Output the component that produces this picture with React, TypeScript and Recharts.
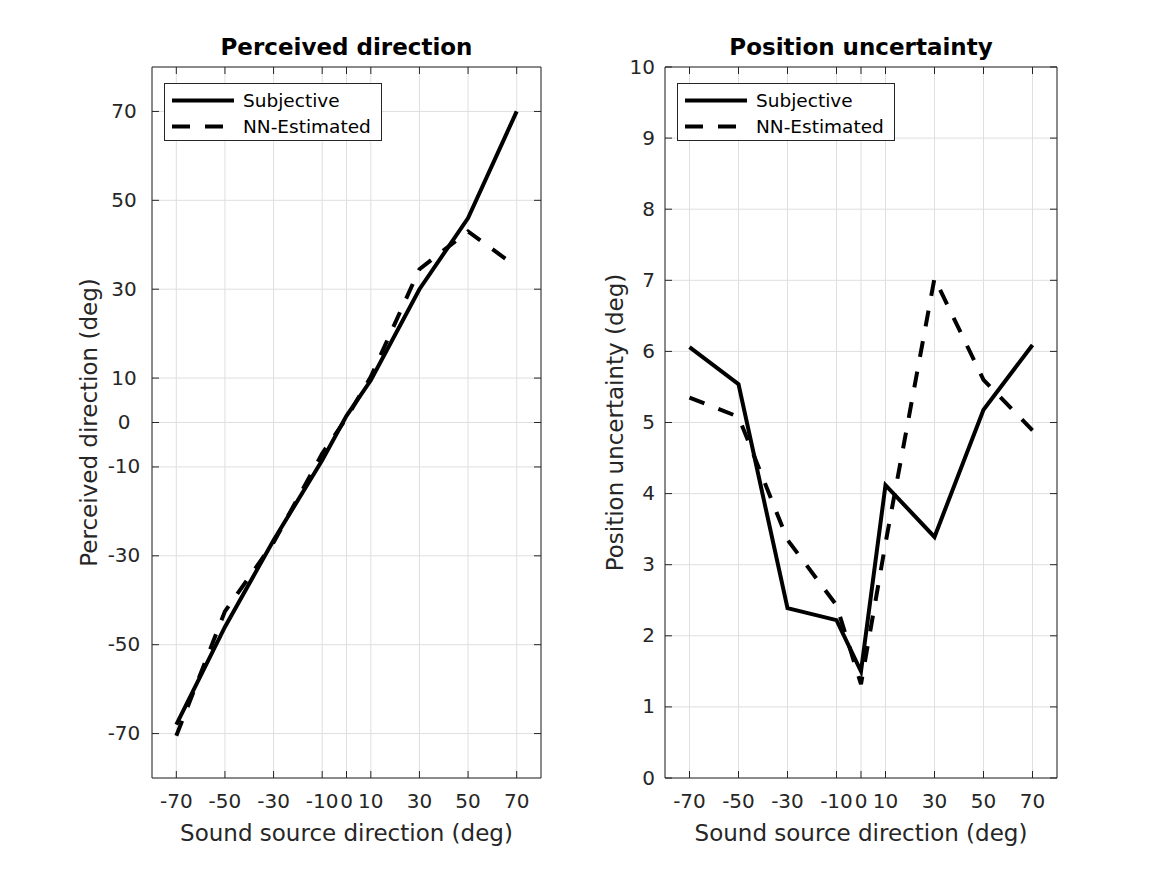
import React from 'react';
import { LineChart, Line, XAxis, YAxis, CartesianGrid, ReferenceLine, Legend, Label } from 'recharts';

// sound source directions (deg), same for both panels
const SOURCE_DIR = [-70, -50, -30, -10, 0, 10, 30, 50, 70];
const DIR_TICKS = [-70, -50, -30, -10, 0, 10, 30, 50, 70];
const UNC_TICKS = [0, 1, 2, 3, 4, 5, 6, 7, 8, 9, 10];

// left panel: perceived direction (deg)
const PERCEIVED_SUBJ = [-68, -46, -26.5, -8.5, 1.5, 9.5, 30, 46, 70];
const PERCEIVED_NN = [-70.5, -42.5, -27, -7, 1, 10.3, 34.5, 43, 35];

// right panel: position uncertainty (deg)
const UNC_SUBJ = [6.06, 5.54, 2.39, 2.22, 1.5, 4.12, 3.39, 5.18, 6.09];
const UNC_NN = [5.35, 5.08, 3.35, 2.43, 1.32, 3.3, 7.03, 5.6, 4.89];

const SERIES = [
  { key: 'subj', name: 'Subjective', dash: undefined as string | undefined },
  { key: 'nn', name: 'NN-Estimated', dash: '16 15' },
];

const W = 1167;
const H = 875;
const TOP = 67;
const BOTTOM = 778;
const X_AXIS_H = H - BOTTOM;
const FONT = '"DejaVu Sans", sans-serif';
const AXIS = '#262626';
const GRID = '#dfdfdf';
const TICK_LEN = 7;

interface PanelProps {
  plotLeft: number;
  plotRight: number;
  yAxisWidth: number;
  yDomain: [number, number];
  yTicks: number[];
  subj: number[];
  nn: number[];
  yLabel: string;
  yLabelX: number;
  yTickX: number;
  yTickAnchor: 'middle' | 'end';
}

function LegendBox() {
  return (
    <div style={{ width: 218, height: 58, border: `1px solid ${AXIS}`, background: '#fff', boxSizing: 'border-box' }}>
      <svg width={216} height={56} style={{ display: 'block' }}>
        {SERIES.map((s, i) => {
          const cy = 16.5 + i * 26;
          return (
            <g key={s.key}>
              <line x1={7} x2={69} y1={cy} y2={cy} stroke="#000" strokeWidth={4} strokeDasharray={s.dash ? '18 15' : undefined} />
              <text x={78} y={cy} dy="0.35em" fontFamily={FONT} fontSize={18.5} fill="#000">{s.name}</text>
            </g>
          );
        })}
      </svg>
    </div>
  );
}

function Panel(p: PanelProps) {
  const data = SOURCE_DIR.map((d, i) => ({ dir: d, subj: p.subj[i], nn: p.nn[i] }));
  const midX = (p.plotLeft + p.plotRight) / 2;
  const midY = (TOP + BOTTOM) / 2;

  const xTick = (props: any) => {
    const { x, payload } = props;
    return (
      <g>
        <line x1={x} x2={x} y1={BOTTOM} y2={BOTTOM - TICK_LEN} stroke={AXIS} />
        <line x1={x} x2={x} y1={TOP} y2={TOP + TICK_LEN} stroke={AXIS} />
        <text x={x} y={808} textAnchor="middle" fontFamily={FONT} fontSize={20} fill={AXIS}>{payload.value}</text>
      </g>
    );
  };

  const yTick = (props: any) => {
    const { y, payload } = props;
    return (
      <g>
        <line x1={p.plotLeft} x2={p.plotLeft + TICK_LEN} y1={y} y2={y} stroke={AXIS} />
        <line x1={p.plotRight} x2={p.plotRight - TICK_LEN} y1={y} y2={y} stroke={AXIS} />
        <text x={p.yTickX} y={y} dy={6.5} textAnchor={p.yTickAnchor} fontFamily={FONT} fontSize={20} fill={AXIS}>{payload.value}</text>
      </g>
    );
  };

  return (
    <div style={{ position: 'absolute', left: 0, top: 0 }}>
      <LineChart
        width={W}
        height={H}
        data={data}
        margin={{ top: TOP, bottom: 0, left: p.plotLeft - p.yAxisWidth, right: W - p.plotRight }}
      >
        <CartesianGrid stroke={GRID} />
        <XAxis
          dataKey="dir"
          type="number"
          domain={[-80, 80]}
          ticks={DIR_TICKS}
          interval={0}
          allowDataOverflow
          height={X_AXIS_H}
          tickLine={false}
          tickSize={0}
          axisLine={{ stroke: AXIS }}
          tick={xTick}
        >
          <Label
            content={() => (
              <text x={midX} y={841} textAnchor="middle" fontFamily={FONT} fontSize={23} fill={AXIS}>
                Sound source direction (deg)
              </text>
            )}
          />
        </XAxis>
        <YAxis
          type="number"
          domain={p.yDomain}
          ticks={p.yTicks}
          interval={0}
          allowDataOverflow
          width={p.yAxisWidth}
          tickLine={false}
          tickSize={0}
          axisLine={{ stroke: AXIS }}
          tick={yTick}
        >
          <Label
            content={() => (
              <text
                x={p.yLabelX}
                y={midY}
                transform={`rotate(-90 ${p.yLabelX} ${midY})`}
                textAnchor="middle"
                fontFamily={FONT}
                fontSize={23}
                fill={AXIS}
              >
                {p.yLabel}
              </text>
            )}
          />
        </YAxis>
        <ReferenceLine y={p.yDomain[1]} stroke={AXIS} />
        <ReferenceLine x={80} stroke={AXIS} />
        {SERIES.map((s) => (
          <Line
            key={s.key}
            type="linear"
            dataKey={s.key}
            name={s.name}
            stroke="#000"
            strokeWidth={4}
            strokeDasharray={s.dash}
            dot={false}
            activeDot={false}
            isAnimationActive={false}
          />
        ))}
        <Legend
          layout="vertical"
          align="center"
          verticalAlign="middle"
          content={() => <LegendBox />}
          wrapperStyle={{ left: p.plotLeft + 12, top: 83, width: 218, height: 58 }}
        />
      </LineChart>
    </div>
  );
}

export default function App() {
  return (
    <div style={{ position: 'absolute', left: 0, top: 0, width: W, height: H, background: '#fff', overflow: 'hidden' }}>
      <Panel
        plotLeft={152}
        plotRight={541}
        yAxisWidth={128}
        yDomain={[-80, 80]}
        yTicks={DIR_TICKS}
        subj={PERCEIVED_SUBJ}
        nn={PERCEIVED_NN}
        yLabel="Perceived direction (deg)"
        yLabelX={97}
        yTickX={124}
        yTickAnchor="middle"
      />
      <Panel
        plotLeft={665}
        plotRight={1057}
        yAxisWidth={112}
        yDomain={[0, 10]}
        yTicks={UNC_TICKS}
        subj={UNC_SUBJ}
        nn={UNC_NN}
        yLabel="Position uncertainty (deg)"
        yLabelX={623}
        yTickX={655}
        yTickAnchor="end"
      />
      <svg width={W} height={H} style={{ position: 'absolute', left: 0, top: 0, pointerEvents: 'none' }}>
        <text x={346.5} y={55} textAnchor="middle" fontFamily={FONT} fontWeight="bold" fontSize={23} fill="#000">
          Perceived direction
        </text>
        <text x={861} y={55} textAnchor="middle" fontFamily={FONT} fontWeight="bold" fontSize={23} fill="#000">
          Position uncertainty
        </text>
      </svg>
    </div>
  );
}
